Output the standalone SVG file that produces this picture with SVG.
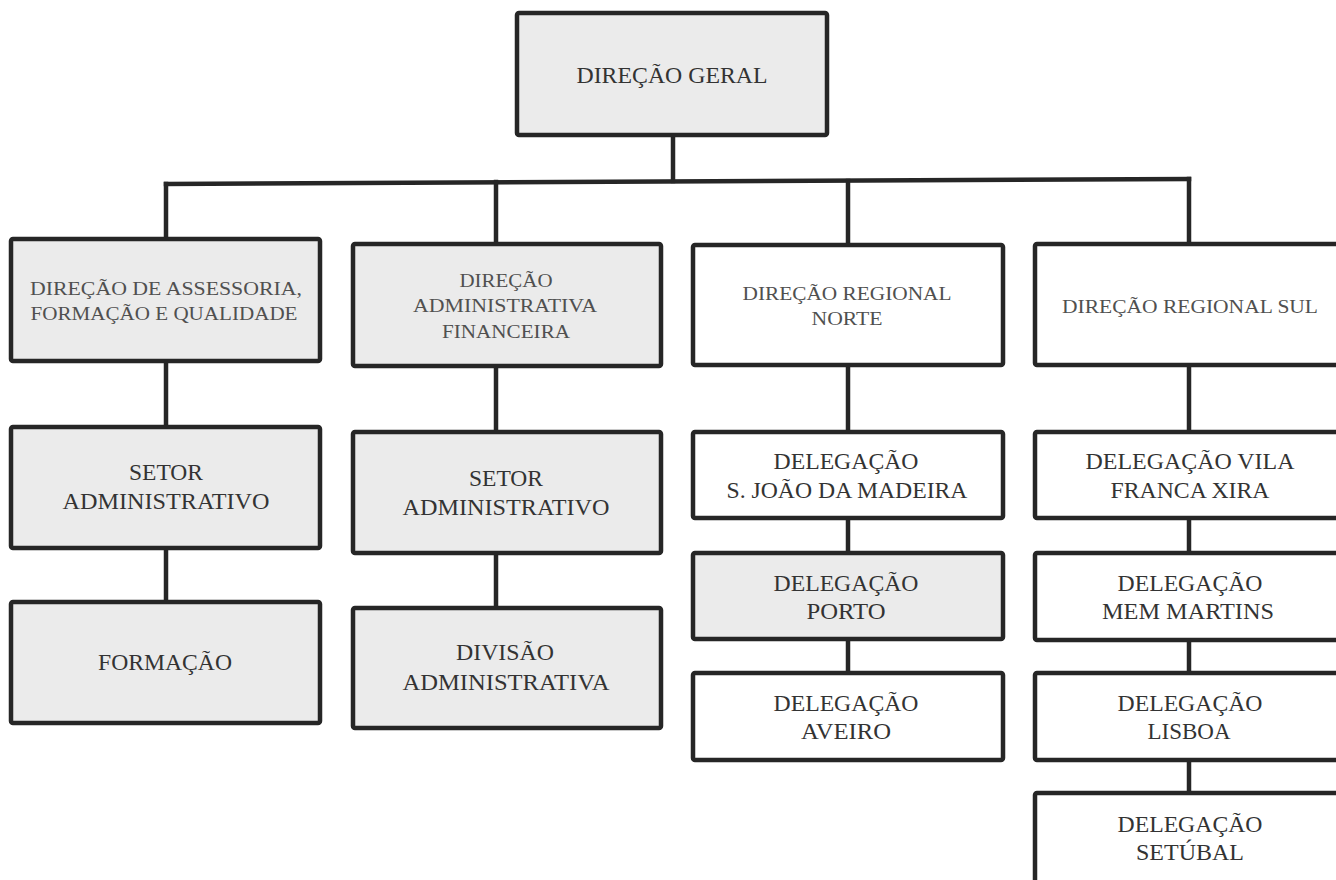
<svg xmlns="http://www.w3.org/2000/svg" width="1336" height="880" viewBox="0 0 1336 880" font-family="'Liberation Serif', 'DejaVu Serif', serif">
<style>
.box{stroke:#262626;stroke-width:4.5;stroke-linejoin:round}
.g{fill:#ebebeb}
.w{fill:#ffffff}
.c{fill:none;stroke:#262626;stroke-width:4.5;stroke-linecap:square}
text{font-family:'Liberation Serif','DejaVu Serif',serif;text-anchor:middle;fill:#3a3a3a}
.t1{font-size:19px;fill:#505050}
.t2{font-size:24px;fill:#333333}
</style>
<rect width="1336" height="880" fill="#ffffff"/>
<g id="connectors">
<line class="c" x1="673" y1="135" x2="673" y2="181"/>
<line class="c" x1="166" y1="184" x2="1189" y2="179"/>
<line class="c" x1="166" y1="184" x2="166" y2="239"/>
<line class="c" x1="496" y1="182" x2="496" y2="244"/>
<line class="c" x1="848" y1="181" x2="848" y2="245"/>
<line class="c" x1="1189" y1="179" x2="1189" y2="244"/>
<line class="c" x1="166" y1="361" x2="166" y2="427"/>
<line class="c" x1="166" y1="548" x2="166" y2="602"/>
<line class="c" x1="496" y1="366" x2="496" y2="432"/>
<line class="c" x1="496" y1="553" x2="496" y2="608"/>
<line class="c" x1="848" y1="365" x2="848" y2="432"/>
<line class="c" x1="848" y1="518" x2="848" y2="553"/>
<line class="c" x1="848" y1="639" x2="848" y2="673"/>
<line class="c" x1="1189" y1="365" x2="1189" y2="432"/>
<line class="c" x1="1189" y1="518" x2="1189" y2="553"/>
<line class="c" x1="1189" y1="640" x2="1189" y2="673"/>
<line class="c" x1="1189" y1="760" x2="1189" y2="793"/>
</g>
<g id="n-geral">
<rect class="box g" x="517" y="13" width="310" height="122" rx="2"/>
<text class="t2" x="672" y="83" textLength="191" lengthAdjust="spacingAndGlyphs">DIREÇÃO GERAL</text>
</g>
<g id="n-assessoria">
<rect class="box g" x="11" y="239" width="309" height="122" rx="2"/>
<text class="t1" x="166" y="295" textLength="272" lengthAdjust="spacingAndGlyphs">DIREÇÃO DE  ASSESSORIA,</text>
<text class="t1" x="164" y="320" textLength="267" lengthAdjust="spacingAndGlyphs">FORMAÇÃO E QUALIDADE</text>
</g>
<g id="n-admfin">
<rect class="box g" x="353" y="244" width="308" height="122" rx="2"/>
<text class="t1" x="506" y="287" textLength="93" lengthAdjust="spacingAndGlyphs">DIREÇÃO</text>
<text class="t1" x="505" y="312" textLength="184" lengthAdjust="spacingAndGlyphs">ADMINISTRATIVA</text>
<text class="t1" x="506" y="338" textLength="128" lengthAdjust="spacingAndGlyphs">FINANCEIRA</text>
</g>
<g id="n-norte">
<rect class="box w" x="693" y="245" width="310" height="120" rx="2"/>
<text class="t1" x="847" y="300" textLength="209" lengthAdjust="spacingAndGlyphs">DIREÇÃO REGIONAL</text>
<text class="t1" x="847" y="325" textLength="71" lengthAdjust="spacingAndGlyphs">NORTE</text>
</g>
<g id="n-sul">
<rect class="box w" x="1035" y="244" width="312" height="121" rx="2"/>
<text class="t1" x="1190" y="313" textLength="256" lengthAdjust="spacingAndGlyphs">DIREÇÃO REGIONAL SUL</text>
</g>
<g id="n-setor1">
<rect class="box g" x="11" y="427" width="309" height="121" rx="2"/>
<text class="t2" x="166" y="480" textLength="74" lengthAdjust="spacingAndGlyphs">SETOR</text>
<text class="t2" x="166" y="509" textLength="207" lengthAdjust="spacingAndGlyphs">ADMINISTRATIVO</text>
</g>
<g id="n-formacao">
<rect class="box g" x="11" y="602" width="309" height="121" rx="2"/>
<text class="t2" x="165" y="670" textLength="134" lengthAdjust="spacingAndGlyphs">FORMAÇÃO</text>
</g>
<g id="n-setor2">
<rect class="box g" x="353" y="432" width="308" height="121" rx="2"/>
<text class="t2" x="506" y="486" textLength="74" lengthAdjust="spacingAndGlyphs">SETOR</text>
<text class="t2" x="506" y="515" textLength="207" lengthAdjust="spacingAndGlyphs">ADMINISTRATIVO</text>
</g>
<g id="n-divisao">
<rect class="box g" x="353" y="608" width="308" height="120" rx="2"/>
<text class="t2" x="505" y="660" textLength="98" lengthAdjust="spacingAndGlyphs">DIVISÃO</text>
<text class="t2" x="506" y="690" textLength="207" lengthAdjust="spacingAndGlyphs">ADMINISTRATIVA</text>
</g>
<g id="n-sjoao">
<rect class="box w" x="693" y="432" width="310" height="86" rx="2"/>
<text class="t2" x="846" y="469" textLength="145" lengthAdjust="spacingAndGlyphs">DELEGAÇÃO</text>
<text class="t2" x="847" y="498" textLength="241" lengthAdjust="spacingAndGlyphs">S. JOÃO DA MADEIRA</text>
</g>
<g id="n-porto">
<rect class="box g" x="693" y="553" width="310" height="86" rx="2"/>
<text class="t2" x="846" y="591" textLength="145" lengthAdjust="spacingAndGlyphs">DELEGAÇÃO</text>
<text class="t2" x="846" y="619" textLength="79" lengthAdjust="spacingAndGlyphs">PORTO</text>
</g>
<g id="n-aveiro">
<rect class="box w" x="693" y="673" width="310" height="87" rx="2"/>
<text class="t2" x="846" y="711" textLength="145" lengthAdjust="spacingAndGlyphs">DELEGAÇÃO</text>
<text class="t2" x="846" y="739" textLength="90" lengthAdjust="spacingAndGlyphs">AVEIRO</text>
</g>
<g id="n-vila">
<rect class="box w" x="1035" y="432" width="312" height="86" rx="2"/>
<text class="t2" x="1190" y="469" textLength="209" lengthAdjust="spacingAndGlyphs">DELEGAÇÃO  VILA</text>
<text class="t2" x="1190" y="498" textLength="159" lengthAdjust="spacingAndGlyphs">FRANCA XIRA</text>
</g>
<g id="n-mem">
<rect class="box w" x="1035" y="553" width="312" height="87" rx="2"/>
<text class="t2" x="1190" y="591" textLength="145" lengthAdjust="spacingAndGlyphs">DELEGAÇÃO</text>
<text class="t2" x="1188" y="619" textLength="172" lengthAdjust="spacingAndGlyphs">MEM MARTINS</text>
</g>
<g id="n-lisboa">
<rect class="box w" x="1035" y="673" width="312" height="87" rx="2"/>
<text class="t2" x="1190" y="711" textLength="145" lengthAdjust="spacingAndGlyphs">DELEGAÇÃO</text>
<text class="t2" x="1189" y="739" textLength="83" lengthAdjust="spacingAndGlyphs">LISBOA</text>
</g>
<g id="n-setubal">
<rect class="box w" x="1035" y="793" width="312" height="100" rx="2"/>
<text class="t2" x="1190" y="832" textLength="145" lengthAdjust="spacingAndGlyphs">DELEGAÇÃO</text>
<text class="t2" x="1190" y="860" textLength="108" lengthAdjust="spacingAndGlyphs">SETÚBAL</text>
</g>
</svg>
